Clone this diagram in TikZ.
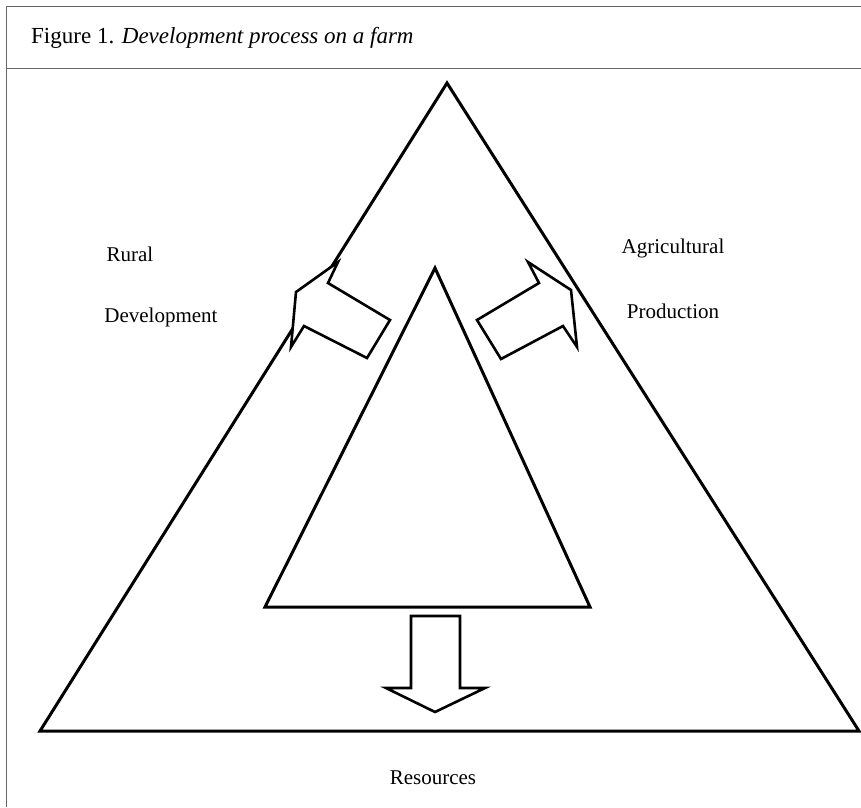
\documentclass[tikz,border=0pt]{standalone}
\usepackage{fontspec}
\setmainfont{Liberation Serif}
\tikzset{
  frameline/.style={draw=black!60, line width=1pt},
  shapeline/.style={draw=black, line width=3pt, line join=miter},
  blockarrow/.style={draw=black, line width=2.6pt, line join=miter, fill=white},
  lbl/.style={font=\fontsize{21}{24}\selectfont, inner sep=0pt},
  ttl/.style={font=\fontsize{23}{26}\selectfont, inner sep=0pt, anchor=base west}
}
\begin{document}
\begin{tikzpicture}[x=1pt,y=-1pt]
\useasboundingbox (0,0) rectangle (861,807);
% frame
\draw[frameline] (6,6) -- (861,6);
\draw[frameline] (6,68) -- (861,68);
\draw[frameline] (6,6) -- (6,807);
\node[ttl] (title) at (31,43) {Figure 1. \textit{Development process on a farm}};
% triangles
\draw[shapeline] (447,83) -- (40,731) -- (859,731) -- cycle;
\draw[shapeline] (435,268) -- (265,607) -- (590,607) -- cycle;
% left block arrow
\draw[blockarrow] (338,262) -- (296,292) -- (291,347) -- (304,326) -- (367,358) -- (390,320) -- (328,283) -- cycle;
% right block arrow
\draw[blockarrow] (528,262) -- (571,290) -- (577,347) -- (563,326) -- (501,359) -- (477,320) -- (539,283) -- cycle;
% down block arrow
\draw[blockarrow] (411,616) -- (460,616) -- (460,688) -- (485,688) -- (435,712) -- (386,688) -- (411,688) -- cycle;
% labels
\node[lbl] (rural) at (130,254) {Rural};
\node[lbl] (rd) at (161,317) {Development};
\node[lbl] (agri) at (673,248) {Agricultural};
\node[lbl] (prod) at (673,311) {Production};
\node[lbl] (res) at (433,778) {Resources};
\end{tikzpicture}
\end{document}
